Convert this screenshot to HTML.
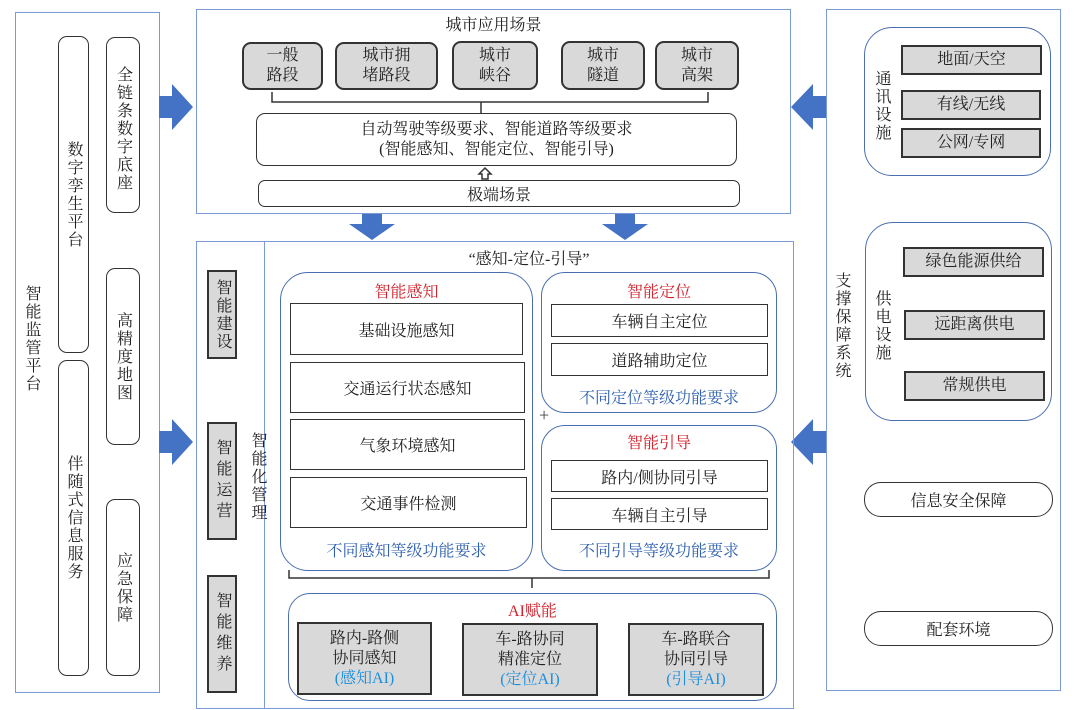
<!DOCTYPE html>
<html><head><meta charset="utf-8"><style>
*{margin:0;padding:0;box-sizing:border-box}
body{width:1080px;height:710px;background:#fff;position:relative;overflow:hidden;font-family:"Liberation Serif","Noto Serif CJK SC",serif;color:#222}
.a{position:absolute}
.blue{border:1.5px solid #7b9bd6}
.rb{border:1.5px solid #333;border-radius:9px;background:#fff}
.g{border:2px solid #333;background:#d9d9d9;display:flex;align-items:center;justify-content:center;text-align:center;font-size:16px;line-height:20px}
.w{border:1.5px solid #333;background:#fff;display:flex;align-items:center;justify-content:center;text-align:center;font-size:16px}
.grp{border:1.5px solid #4a6fb0;border-radius:28px}
.v{writing-mode:vertical-rl;text-orientation:upright;font-size:16px;letter-spacing:2px}
.c{display:flex;align-items:center;justify-content:center;text-align:center}
.red{color:#d0202a;font-size:16px}
.bt{color:#2e5fae;font-size:16px}
.lb{color:#1a8fe0}
</style></head><body>
<div class="a blue" style="left:15px;top:12px;width:145px;height:681px"></div>
<div class="a v" style="left:20px;top:285px">智能监管平台</div>
<div class="a rb c" style="left:58px;top:36px;width:31px;height:317px"><span class="v">数字孪生平台</span></div>
<div class="a rb c" style="left:58px;top:360px;width:31px;height:316px"><span class="v">伴随式信息服务</span></div>
<div class="a rb c" style="left:106px;top:37px;width:34px;height:176px;align-items:flex-start;padding-top:28px"><span class="v">全链条数字底座</span></div>
<div class="a rb c" style="left:106px;top:268px;width:34px;height:177px"><span class="v">高精度地图</span></div>
<div class="a rb c" style="left:106px;top:499px;width:34px;height:177px"><span class="v">应急保障</span></div>
<svg class="a" style="left:0;top:0" width="1080" height="710">
<g fill="#4472c4">
<polygon points="159,96 172,96 172,84 193,107 172,130 172,118 159,118"/>
<polygon points="159,431 172,431 172,419 193,442 172,465 172,453 159,453"/>
<polygon points="826,96 813,96 813,84 791,107 813,130 813,118 826,118"/>
<polygon points="826,431 813,431 813,419 791,442 813,465 813,453 826,453"/>
<polygon points="362,213 382,213 382,224 395,224 372,240 349,224 362,224"/>
<polygon points="615,213 635,213 635,224 648,224 625,240 602,224 615,224"/>
</g>
<g fill="none" stroke="#333" stroke-width="1.5">
<path d="M272,92 V102 H708 V92 M481,102 V113"/>
<path d="M289,570 V578 H769 V570 M532,578 V588"/>
<polygon points="485,168 491,174 488,174 488,179 482,179 482,174 479,174"/>
</g>
<text x="539" y="421" font-size="18" fill="#444">+</text>
</svg>
<div class="a blue" style="left:196px;top:9px;width:595px;height:205px"></div>
<div class="a" style="left:196px;top:12px;width:595px;text-align:center;font-size:16px">城市应用场景</div>
<div class="a g" style="left:242px;top:42px;width:81px;height:48px;border-radius:9px"><div>一般<br>路段</div></div>
<div class="a g" style="left:335px;top:42px;width:103px;height:48px;border-radius:9px"><div>城市拥<br>堵路段</div></div>
<div class="a g" style="left:452px;top:41px;width:86px;height:49px;border-radius:9px"><div>城市<br>峡谷</div></div>
<div class="a g" style="left:561px;top:41px;width:84px;height:49px;border-radius:9px"><div>城市<br>隧道</div></div>
<div class="a g" style="left:655px;top:41px;width:84px;height:49px;border-radius:9px"><div>城市<br>高架</div></div>
<div class="a rb c" style="left:256px;top:113px;width:481px;height:53px;font-size:16px;line-height:20px"><div>自动驾驶等级要求、智能道路等级要求<br>(智能感知、智能定位、智能引导)</div></div>
<div class="a rb c" style="left:258px;top:180px;width:482px;height:27px;border-radius:7px;font-size:16px">极端场景</div>
<div class="a blue" style="left:196px;top:241px;width:598px;height:468px"></div>
<div class="a" style="left:264px;top:241px;width:0;height:468px;border-left:1.5px solid #7b9bd6"></div>
<div class="a" style="left:264px;top:246px;width:530px;text-align:center;font-size:16px">“感知-定位-引导”</div>
<div class="a g" style="left:207px;top:270px;width:30px;height:89px"><span class="v">智能建设</span></div>
<div class="a g" style="left:207px;top:422px;width:30px;height:118px"><span class="v" style="letter-spacing:5px">智能运营</span></div>
<div class="a g" style="left:207px;top:575px;width:30px;height:118px"><span class="v" style="letter-spacing:5px">智能维养</span></div>
<div class="a v" style="left:246px;top:432px">智能化管理</div>
<div class="a grp" style="left:280px;top:272px;width:253px;height:299px"></div>
<div class="a red" style="left:280px;top:279px;width:253px;text-align:center">智能感知</div>
<div class="a w" style="left:290px;top:303px;width:233px;height:52px">基础设施感知</div>
<div class="a w" style="left:290px;top:362px;width:235px;height:51px">交通运行状态感知</div>
<div class="a w" style="left:290px;top:419px;width:235px;height:51px">气象环境感知</div>
<div class="a w" style="left:290px;top:477px;width:237px;height:51px">交通事件检测</div>
<div class="a bt" style="left:280px;top:538px;width:253px;text-align:center">不同感知等级功能要求</div>
<div class="a grp" style="left:541px;top:272px;width:236px;height:141px;border-radius:24px"></div>
<div class="a red" style="left:541px;top:279px;width:236px;text-align:center">智能定位</div>
<div class="a w" style="left:551px;top:304px;width:217px;height:33px">车辆自主定位</div>
<div class="a w" style="left:551px;top:343px;width:217px;height:33px">道路辅助定位</div>
<div class="a bt" style="left:541px;top:385px;width:236px;text-align:center">不同定位等级功能要求</div>
<div class="a grp" style="left:541px;top:425px;width:236px;height:146px;border-radius:24px"></div>
<div class="a red" style="left:541px;top:430px;width:236px;text-align:center">智能引导</div>
<div class="a w" style="left:551px;top:460px;width:217px;height:32px">路内/侧协同引导</div>
<div class="a w" style="left:551px;top:498px;width:217px;height:32px">车辆自主引导</div>
<div class="a bt" style="left:541px;top:538px;width:236px;text-align:center">不同引导等级功能要求</div>
<div class="a grp" style="left:288px;top:593px;width:489px;height:108px;border-radius:22px"></div>
<div class="a red" style="left:288px;top:598px;width:489px;text-align:center">AI赋能</div>
<div class="a g" style="left:297px;top:622px;width:135px;height:73px"><div>路内-路侧<br>协同感知<br><span class="lb">(感知AI)</span></div></div>
<div class="a g" style="left:462px;top:623px;width:136px;height:73px"><div>车-路协同<br>精准定位<br><span class="lb">(定位AI)</span></div></div>
<div class="a g" style="left:628px;top:623px;width:136px;height:73px"><div>车-路联合<br>协同引导<br><span class="lb">(引导AI)</span></div></div>
<div class="a blue" style="left:826px;top:9px;width:235px;height:682px"></div>
<div class="a v" style="left:830px;top:272px">支撑保障系统</div>
<div class="a grp" style="left:864px;top:27px;width:187px;height:149px"></div>
<div class="a v" style="left:870px;top:70px">通讯设施</div>
<div class="a g" style="left:901px;top:45px;width:141px;height:30px">地面/天空</div>
<div class="a g" style="left:901px;top:90px;width:140px;height:30px">有线/无线</div>
<div class="a g" style="left:901px;top:128px;width:140px;height:30px">公网/专网</div>
<div class="a grp" style="left:865px;top:222px;width:187px;height:199px"></div>
<div class="a v" style="left:870px;top:290px">供电设施</div>
<div class="a g" style="left:903px;top:247px;width:141px;height:30px">绿色能源供给</div>
<div class="a g" style="left:904px;top:310px;width:141px;height:30px">远距离供电</div>
<div class="a g" style="left:904px;top:371px;width:141px;height:30px">常规供电</div>
<div class="a rb c" style="left:864px;top:482px;width:189px;height:35px;border-radius:17px;font-size:16px">信息安全保障</div>
<div class="a rb c" style="left:864px;top:611px;width:189px;height:35px;border-radius:17px;font-size:16px">配套环境</div>
</body></html>
